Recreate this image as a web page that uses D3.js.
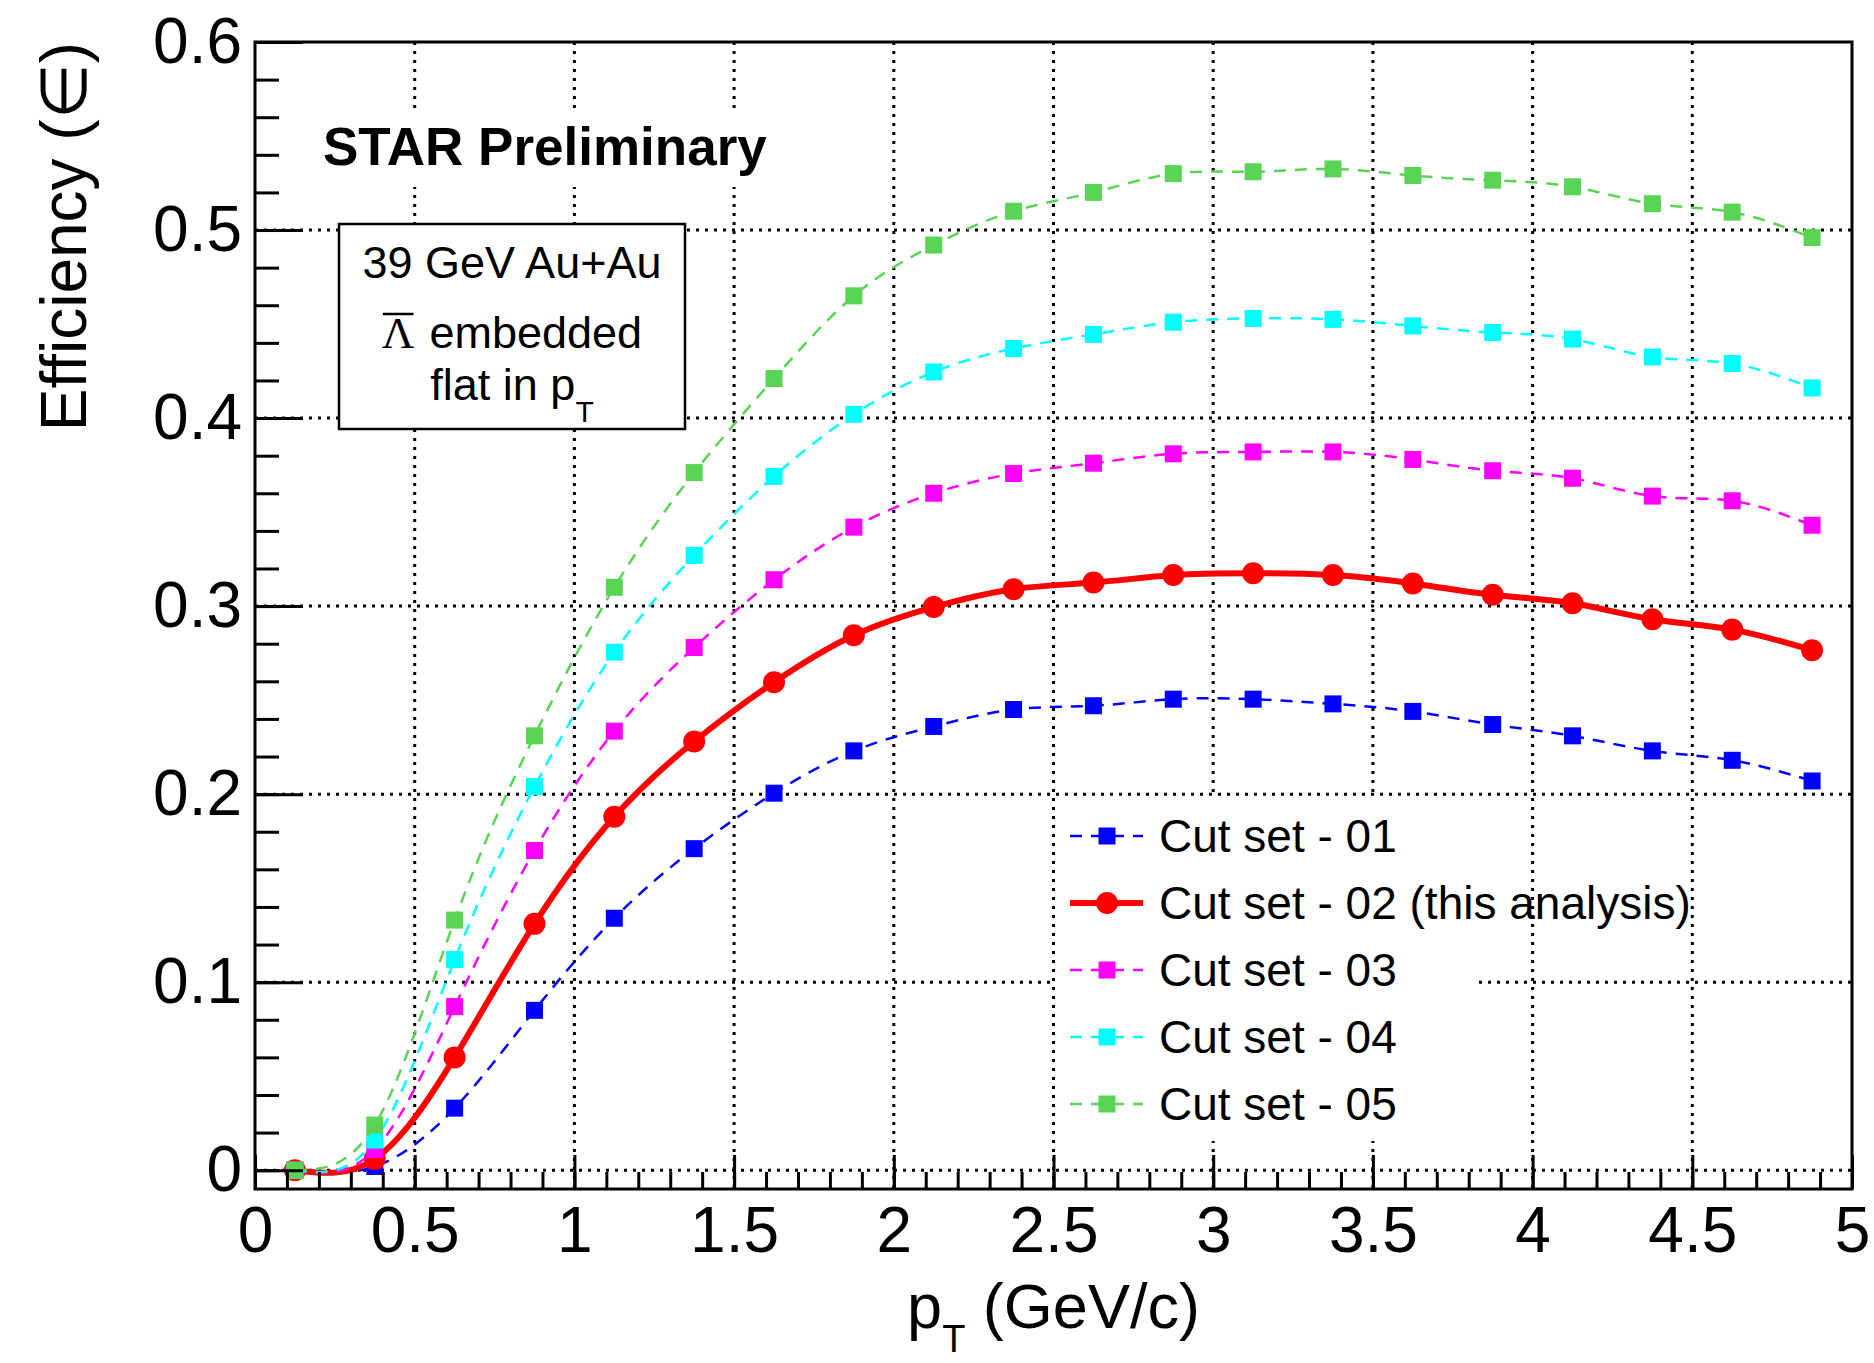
<!DOCTYPE html>
<html>
<head>
<meta charset="utf-8">
<script src="https://cdn.jsdelivr.net/npm/d3@7"></script>
<style>
  body { margin: 0; background: #fff; }
  text { font-family: "Liberation Sans", Arial, Helvetica, sans-serif; fill: #000; }
</style>
</head>
<body>
<svg width="1874" height="1363"></svg>
<script>
// bin centres in pT (GeV/c)
const pt = [0.125, 0.375, 0.625, 0.875, 1.125, 1.375, 1.625, 1.875, 2.125, 2.375,
            2.625, 2.875, 3.125, 3.375, 3.625, 3.875, 4.125, 4.375, 4.625, 4.875];

// efficiency per cut set
const cut01 = [0.000, 0.002, 0.033, 0.085, 0.134, 0.171, 0.2005, 0.223, 0.236, 0.245,
               0.247, 0.2505, 0.2505, 0.248, 0.244, 0.237, 0.231, 0.223, 0.218, 0.207];
const cut02 = [0.000, 0.006, 0.060, 0.131, 0.188, 0.228, 0.2595, 0.2845, 0.2995, 0.309,
               0.3125, 0.3165, 0.3175, 0.3165, 0.312, 0.306, 0.3015, 0.293, 0.2875, 0.2765];
const cut03 = [0.000, 0.011, 0.087, 0.170, 0.2335, 0.278, 0.314, 0.342, 0.360, 0.3705,
               0.376, 0.381, 0.382, 0.382, 0.378, 0.372, 0.368, 0.3585, 0.356, 0.343];
const cut04 = [0.000, 0.016, 0.112, 0.204, 0.2755, 0.327, 0.369, 0.402, 0.4245, 0.437,
               0.4445, 0.451, 0.453, 0.4525, 0.449, 0.4455, 0.442, 0.4325, 0.429, 0.416];
const cut05 = [0.000, 0.024, 0.133, 0.231, 0.310, 0.371, 0.421, 0.465, 0.492, 0.510,
               0.520, 0.530, 0.531, 0.5325, 0.529, 0.5265, 0.523, 0.514, 0.5095, 0.496];

const seriesNames = ['Cut set - 01', 'Cut set - 02 (this analysis)', 'Cut set - 03',
                     'Cut set - 04', 'Cut set - 05'];
const seriesColors = ['#0000ff', '#ff0000', '#ff00ff', '#00ffff', '#59d454'];

// axis ticks
const xMajor = [0, 0.5, 1, 1.5, 2, 2.5, 3, 3.5, 4, 4.5, 5];
const xTickLabels = ['0', '0.5', '1', '1.5', '2', '2.5', '3', '3.5', '4', '4.5', '5'];
const xMinor = d3.range(0, 51).map(i => i / 10);
const yMajor = [0, 0.1, 0.2, 0.3, 0.4, 0.5, 0.6];
const yTickLabels = ['0', '0.1', '0.2', '0.3', '0.4', '0.5', '0.6'];
const yMinor = d3.range(0, 31).map(i => i / 50);

const svg = d3.select('svg');

const frame = {left: 255, right: 1852, top: 42, bottom: 1189};

const x = d3.scaleLinear().domain([0, 5]).range([frame.left, frame.right]);
const y = d3.scaleLinear().domain([-0.01, 0.6]).range([frame.bottom, frame.top]);

const series = [cut01, cut02, cut03, cut04, cut05].map((vals, i) => ({
    name: seriesNames[i],
    color: seriesColors[i],
    solid: i === 1,
    points: pt.map((p, j) => ({x: p, y: vals[j]}))
}));

// dotted grid
const grid = svg.append('g')
    .attr('stroke', '#000')
    .attr('stroke-width', 3)
    .attr('stroke-dasharray', '3,6');

grid.selectAll('.gx').data(xMajor.slice(1, -1))
    .enter().append('line')
    .attr('x1', d => x(d)).attr('x2', d => x(d))
    .attr('y1', frame.top).attr('y2', frame.bottom);

grid.selectAll('.gy').data(yMajor.slice(0, -1))
    .enter().append('line')
    .attr('x1', frame.left).attr('x2', frame.right)
    .attr('y1', d => y(d)).attr('y2', d => y(d));

// white backgrounds for the labels
svg.append('rect')
    .attr('x', 300).attr('y', 110).attr('width', 500).attr('height', 77)
    .attr('fill', '#fff');

svg.append('text')
    .attr('x', 323).attr('y', 165)
    .style('font-size', '53px')
    .style('font-weight', 'bold')
    .text('STAR Preliminary');

// info box
const box = {x: 339, y: 224, w: 346, h: 205};
svg.append('rect')
    .attr('x', box.x).attr('y', box.y).attr('width', box.w).attr('height', box.h)
    .attr('fill', '#fff').attr('stroke', '#000').attr('stroke-width', 2.5);

const cx = box.x + box.w / 2;
svg.append('text')
    .attr('x', cx).attr('y', 278)
    .attr('text-anchor', 'middle')
    .style('font-size', '45px')
    .text('39 GeV Au+Au');

// line 2: anti-Lambda embedded
const lam = svg.append('text')
    .attr('y', 348)
    .style('font-family', '"Liberation Serif", "Times New Roman", serif')
    .style('font-size', '45px')
    .text('\u039B');
const emb = svg.append('text')
    .attr('y', 348)
    .style('font-size', '45px')
    .text('embedded');
const lamW = lam.node().getComputedTextLength();
const embW = emb.node().getComputedTextLength();
const gap = 15;
const start = cx - (lamW + gap + embW) / 2;
lam.attr('x', start);
emb.attr('x', start + lamW + gap);
svg.append('line')
    .attr('x1', start + 1).attr('x2', start + lamW - 1)
    .attr('y1', 314).attr('y2', 314)
    .attr('stroke', '#000').attr('stroke-width', 2.5);

const l3 = svg.append('text')
    .attr('x', cx).attr('y', 400)
    .attr('text-anchor', 'middle')
    .style('font-size', '45px');
l3.append('tspan').text('flat in p');
l3.append('tspan').attr('dy', 22).style('font-size', '30px').text('T');

// legend background
svg.append('rect')
    .attr('x', 1056).attr('y', 797).attr('width', 420).attr('height', 344)
    .attr('fill', '#fff');

// curves
const line = d3.line()
    .x(d => x(d.x))
    .y(d => y(d.y))
    .curve(d3.curveNatural);

const sg = svg.selectAll('.series').data(series)
    .enter().append('g');

sg.append('path')
    .attr('d', d => line(d.points))
    .attr('fill', 'none')
    .attr('stroke', d => d.color)
    .attr('stroke-width', d => d.solid ? 6 : 2.5)
    .attr('stroke-dasharray', d => d.solid ? null : '12,9');

const markerSq = 17;
const markerR = 11;

sg.each(function(s) {
    const g = d3.select(this);
    if (s.solid) {
        g.selectAll('circle').data(s.points)
            .enter().append('circle')
            .attr('cx', d => x(d.x))
            .attr('cy', d => y(d.y))
            .attr('r', markerR)
            .attr('fill', s.color);
    } else {
        g.selectAll('rect').data(s.points)
            .enter().append('rect')
            .attr('x', d => x(d.x) - markerSq / 2)
            .attr('y', d => y(d.y) - markerSq / 2)
            .attr('width', markerSq)
            .attr('height', markerSq)
            .attr('fill', s.color);
    }
});

// legend
const legendX = 1070, legendY = 836, legendStep = 67;
const lg = svg.selectAll('.legend').data(series)
    .enter().append('g')
    .attr('transform', (d, i) => `translate(${legendX}, ${legendY + i * legendStep})`);

lg.append('line')
    .attr('x1', 0).attr('x2', 73)
    .attr('stroke', d => d.color)
    .attr('stroke-width', d => d.solid ? 6 : 2.5)
    .attr('stroke-dasharray', d => d.solid ? null : '12,9');

lg.each(function(s) {
    const g = d3.select(this);
    if (s.solid) {
        g.append('circle').attr('cx', 37).attr('r', markerR).attr('fill', s.color);
    } else {
        g.append('rect')
            .attr('x', 37 - markerSq / 2).attr('y', -markerSq / 2)
            .attr('width', markerSq).attr('height', markerSq)
            .attr('fill', s.color);
    }
});

lg.append('text')
    .attr('x', 89).attr('y', 16)
    .style('font-size', '46px')
    .text(d => d.name);

// axes (ticks point into the frame)
svg.append('g')
    .attr('transform', `translate(0, ${frame.bottom})`)
    .call(d3.axisBottom(x).tickValues(xMajor).tickSize(-34).tickPadding(18)
        .tickFormat((d, i) => xTickLabels[i]));
svg.append('g')
    .attr('transform', `translate(0, ${frame.bottom})`)
    .call(d3.axisBottom(x).tickValues(xMinor).tickSize(-17).tickFormat(''));

svg.append('g')
    .attr('transform', `translate(${frame.left}, 0)`)
    .call(d3.axisLeft(y).tickValues(yMajor).tickSize(-48).tickPadding(13)
        .tickFormat((d, i) => yTickLabels[i]));
svg.append('g')
    .attr('transform', `translate(${frame.left}, 0)`)
    .call(d3.axisLeft(y).tickValues(yMinor).tickSize(-24).tickFormat(''));

svg.selectAll('.domain').remove();
svg.selectAll('.tick line').attr('stroke', '#000').attr('stroke-width', 3);
svg.selectAll('.tick text')
    .style('font-family', '"Liberation Sans", Arial, Helvetica, sans-serif')
    .style('font-size', '64px')
    .attr('fill', '#000');

// frame
svg.append('rect')
    .attr('x', frame.left).attr('y', frame.top)
    .attr('width', frame.right - frame.left)
    .attr('height', frame.bottom - frame.top)
    .attr('fill', 'none')
    .attr('stroke', '#000')
    .attr('stroke-width', 3);

// axis titles
const xt = svg.append('text')
    .attr('x', (frame.left + frame.right) / 2)
    .attr('y', 1328)
    .attr('text-anchor', 'middle')
    .style('font-size', '63px');
xt.append('tspan').text('p');
xt.append('tspan').attr('dy', 24).style('font-size', '38px').text('T');
xt.append('tspan').attr('dy', -24).text(' (GeV/c)');

svg.append('text')
    .attr('transform', 'translate(86, 42) rotate(-90)')
    .attr('text-anchor', 'end')
    .style('font-size', '64px')
    .text('Efficiency (\u2208)');
</script>
</body>
</html>
